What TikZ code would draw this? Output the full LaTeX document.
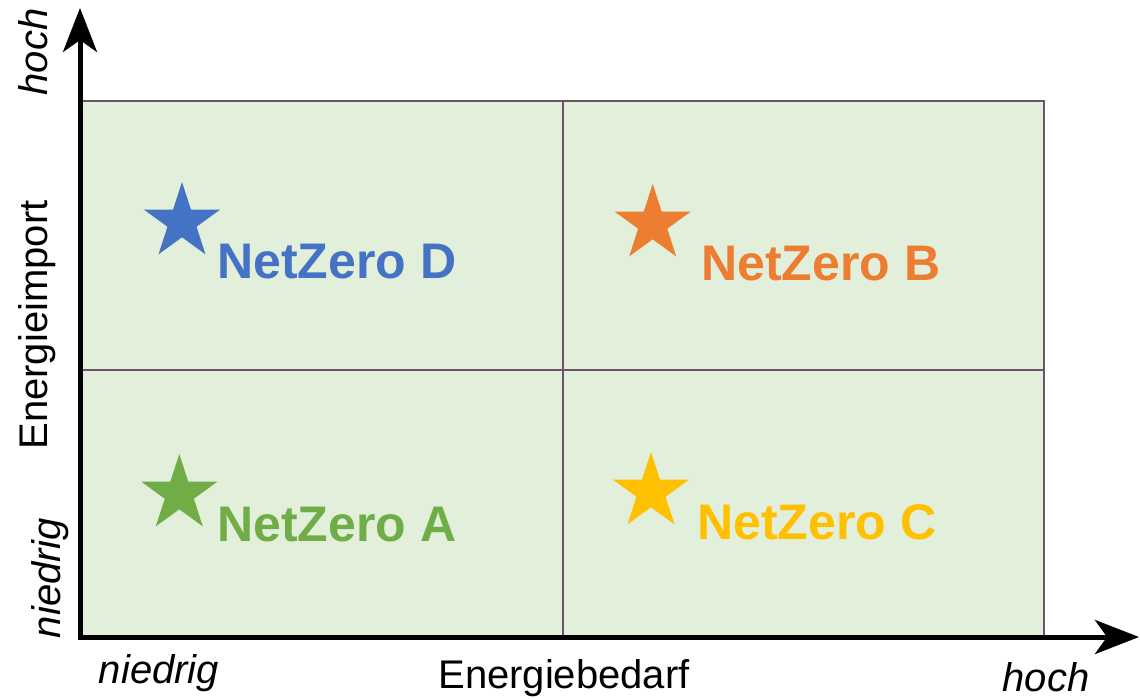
\documentclass[tikz,border=0pt]{standalone}
\usepackage{fontspec}
\setmainfont{Liberation Sans}
\usetikzlibrary{arrows.meta,shapes.geometric}
\definecolor{cellfill}{HTML}{E2EFDA}
\definecolor{cellline}{HTML}{6B5466}
\definecolor{nzA}{HTML}{70AD47}
\definecolor{nzB}{HTML}{ED7D31}
\definecolor{nzC}{HTML}{FFC000}
\definecolor{nzD}{HTML}{4472C4}
\tikzset{
  nzstar/.style={star,star points=5,star point ratio=2.618,minimum size=40pt,inner sep=0pt},
  nzlabel/.style={anchor=base west,inner sep=0pt,font=\fontsize{25}{30}\selectfont\bfseries},
  axlabel/.style={anchor=base,inner sep=0pt,font=\fontsize{20}{24}\selectfont},
  axis/.style={line width=2.5pt,line join=miter,{Stealth[length=22pt,width=17pt,inset=6pt]}-{Stealth[length=22pt,width=17pt,inset=6pt]}}
}
\begin{document}
\begin{tikzpicture}[x=0.5pt,y=-0.5pt]
\useasboundingbox (0,0) rectangle (1140,698);
% quadrants
\draw[cellline,fill=cellfill,line width=1.2pt] (82,101) rectangle (1044,637);
\draw[cellline,line width=1pt] (563,101) -- (563,637) (82,370) -- (1044,370);
% stars and labels
\foreach \n/\sx/\sy/\lx/\ly in {D/182/222/217/278.5, B/652.7/224/701/280,
  A/179.3/494/217/541.7, C/651/492/697/539.3}
  {\node[nzstar,fill=nz\n] (star\n) at (\sx,\sy) {};
   \node[nzlabel,text=nz\n] (nz\n) at (\lx,\ly) {NetZero \n};}
% axes
\coordinate (origin) at (80,637);
\coordinate (ytip) at (80,8);
\coordinate (xtip) at (1139,637);
\draw[axis] (ytip) -- (origin) -- (xtip);
\node[axlabel,rotate=90] (ylab) at (47,325) {Energieimport};
\node[axlabel,rotate=90,font=\fontsize{20}{24}\selectfont\itshape] (yhigh) at (47,52) {hoch};
\node[axlabel,rotate=90,font=\fontsize{20}{24}\selectfont\itshape] (ylow) at (60,578) {niedrig};
\node[axlabel] (xlab) at (564,688) {Energiebedarf};
\node[axlabel,font=\fontsize{20}{24}\selectfont\itshape] (xlow) at (159,683) {niedrig};
\node[axlabel,font=\fontsize{20}{24}\selectfont\itshape] (xhigh) at (1046,691) {hoch};
\end{tikzpicture}
\end{document}
